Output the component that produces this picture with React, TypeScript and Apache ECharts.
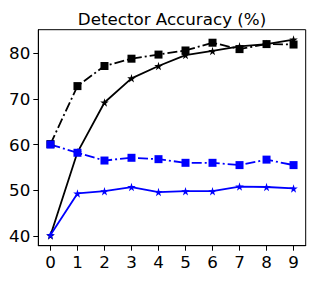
import React, { useEffect, useRef } from "react";
import * as echarts from "echarts";

const xValues = [0, 1, 2, 3, 4, 5, 6, 7, 8, 9];
const blackSquare = [60.1, 72.8, 77.2, 78.8, 79.7, 80.6, 82.3, 80.9, 82.0, 81.9];
const blackStar = [40.1, 58.3, 69.2, 74.5, 77.2, 79.6, 80.5, 81.5, 82.0, 83.0];
const blueSquare = [60.0, 58.2, 56.5, 57.1, 56.8, 56.0, 56.0, 55.5, 56.7, 55.5];
const blueStar = [40.2, 49.3, 49.8, 50.7, 49.6, 49.8, 49.8, 50.8, 50.7, 50.4];
const yTicks = [40, 50, 60, 70, 80];
const xTicks = [0, 1, 2, 3, 4, 5, 6, 7, 8, 9];
const titleText = "Detector Accuracy (%)";

const STAR =
  "path://M50,0 L61,35 L98,35 L68,57 L79,91 L50,70 L21,91 L32,57 L2,35 L39,35 Z";
const FONT = "DejaVu Sans";

function pairs(vals: number[]) {
  return vals.map((v, i) => [xValues[i], v]);
}

export default function App() {
  const ref = useRef<HTMLDivElement>(null);
  useEffect(() => {
    if (!ref.current) return;
    const chart = echarts.init(ref.current, undefined, { renderer: "svg" });
    const dashDot = [10, 3, 2, 3];
    const mk = (
      name: string,
      data: number[],
      color: string,
      dashed: boolean,
      square: boolean
    ) => ({
      name,
      type: "line",
      data: pairs(data),
      symbol: square ? "rect" : STAR,
      symbolSize: square ? 8 : 8.5,
      showSymbol: true,
      lineStyle: { color, width: 1.8, type: dashed ? dashDot : "solid" },
      itemStyle: { color, borderWidth: 0 },
    });
    chart.setOption({
      animation: false,
      backgroundColor: "#ffffff",
      grid: {
        left: 38.3,
        right: 10.3,
        top: 29.7,
        bottom: 35.3,
        show: true,
        borderColor: "#000",
        borderWidth: 1,
        backgroundColor: "transparent",
        containLabel: false,
      },
      graphic: [
        {
          type: "text",
          style: {
            text: titleText,
            x: 172,
            y: 18.5,
            textAlign: "center",
            textVerticalAlign: "middle",
            font: `16.7px "${FONT}"`,
            fill: "#000",
          },
        },
      ],
      xAxis: {
        type: "value",
        min: -0.45,
        max: 9.45,
        axisLine: { show: true, onZero: false, lineStyle: { color: "#000", width: 1 } },
        axisTick: {
          show: true,
          inside: false,
          length: 5,
          customValues: xTicks,
          lineStyle: { color: "#000" },
        },
        axisLabel: {
          customValues: xTicks,
          margin: 8,
          fontSize: 16.7,
          fontFamily: FONT,
          color: "#000",
        },
        splitLine: { show: false },
      },
      yAxis: {
        type: "value",
        min: 37.85,
        max: 85.15,
        axisLine: { show: true, onZero: false, lineStyle: { color: "#000", width: 1 } },
        axisTick: {
          show: true,
          inside: false,
          length: 5,
          customValues: yTicks,
          lineStyle: { color: "#000" },
        },
        axisLabel: {
          customValues: yTicks,
          margin: 8,
          fontSize: 16.7,
          fontFamily: FONT,
          color: "#000",
        },
        splitLine: { show: false },
      },
      series: [
        mk("black-square", blackSquare, "#000000", true, true),
        mk("black-star", blackStar, "#000000", false, false),
        mk("blue-square", blueSquare, "#0000ff", true, true),
        mk("blue-star", blueStar, "#0000ff", false, false),
      ],
    });
    return () => chart.dispose();
  }, []);
  return (
    <div
      ref={ref}
      style={{ position: "absolute", left: 0, top: 0, width: 316, height: 281 }}
    />
  );
}
